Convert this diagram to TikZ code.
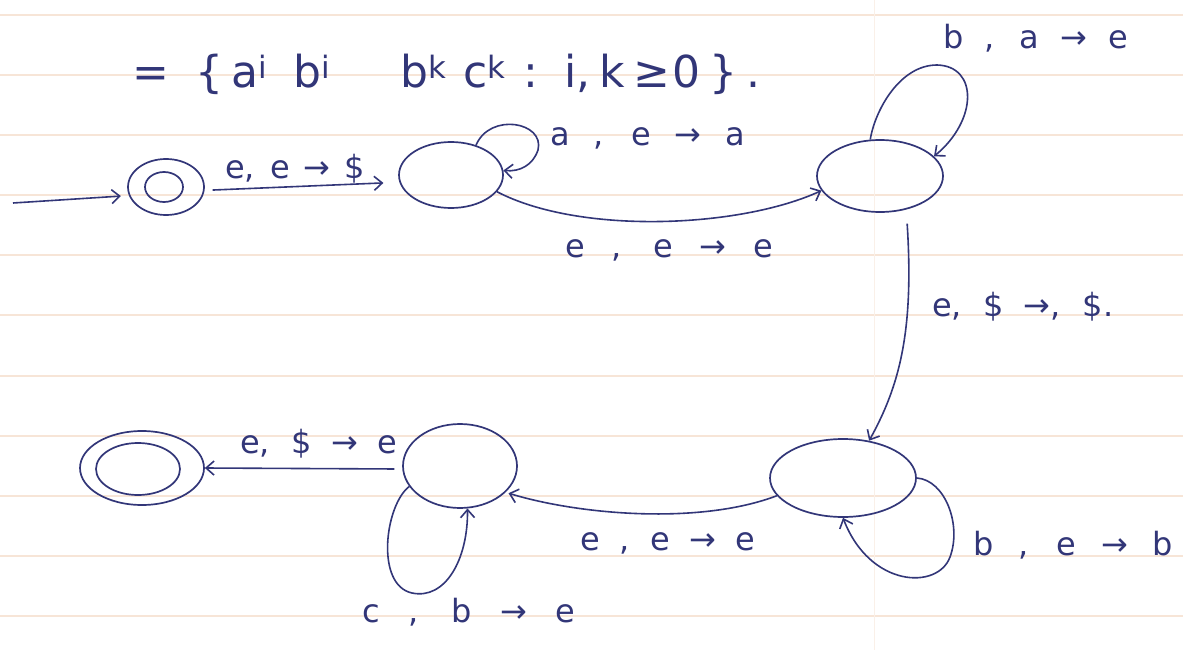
\documentclass[tikz,border=0pt]{standalone}
\usepackage{fontspec}
\setmainfont{DejaVu Sans}
\usetikzlibrary{shapes.geometric,arrows.meta}
\definecolor{ink}{RGB}{50,54,120}
\definecolor{paperrule}{RGB}{247,229,215}
\definecolor{paperv}{RGB}{250,240,232}
\newcommand\gp[1]{\hspace{0pt plus #1fil}}
\begin{document}
\begin{tikzpicture}[x=1pt,y=-1pt,
  state/.style={ellipse, draw=ink, line width=1.7pt, inner sep=0pt},
  edge/.style={draw=ink, line width=1.6pt, -{Straight Barb[length=8pt,width=14pt]}},
  lab/.style={anchor=base west, inner sep=0pt, text=ink, font=\fontsize{32}{34}\selectfont},
]
\useasboundingbox (0,0) rectangle (1183,650);
\fill[white] (0,0) rectangle (1183,650);
\foreach \yy in {15,75,135,195,255,315,376,436,496,556,616}
  \draw[paperrule, line width=1.3pt] (0,\yy) -- (1183,\yy);
\draw[paperv, line width=1pt] (874,0) -- (874,650);

% title
\node[lab, font=\fontsize{44}{46}\selectfont] (title) at (132,88)
  {\makebox[628pt][s]{=\gp3\{\gp1a\textsuperscript{i}\gp3b\textsuperscript{i}\gp8b\textsuperscript{k}\gp2c\textsuperscript{k}\gp2:\gp3i,\gp1k\gp1≥\gp{0.3}0\gp1\}\gp1.}};

% states
\node[state, minimum width=76pt, minimum height=56pt] (q0) at (166,187) {};
\node[state, minimum width=38pt, minimum height=30pt] (q0i) at (164,187) {};
\node[state, minimum width=104pt, minimum height=66pt] (q1) at (451,175) {};
\node[state, minimum width=126pt, minimum height=72pt] (q2) at (880,176) {};
\node[state, minimum width=146pt, minimum height=78pt] (q3) at (843,478) {};
\node[state, minimum width=114pt, minimum height=84pt] (q4) at (460,466) {};
\node[state, minimum width=124pt, minimum height=74pt] (q5) at (142,468) {};
\node[state, minimum width=84pt, minimum height=52pt] (q5i) at (138,469) {};

% edges
\coordinate (s) at (13,203);
\draw[edge, shorten >=8pt] (s) -- (q0.193);
\draw[edge, shorten <=8pt, shorten >=16pt] (q0.-5) -- (q1.188);
\draw[edge] (q1.50) .. controls (490,112) and (545,122) .. (538,150)
  .. controls (533,165) and (520,172) .. (q1.5);
\draw[edge] (q1.-20) .. controls (580,235) and (740,228) .. (q2.194);
\draw[edge] (q2.105) .. controls (875,110) and (900,65) .. (937,65)
  .. controls (978,66) and (978,120) .. (q2.20);
\draw[edge, shorten <=14pt] (q2.-52) .. controls (914,330) and (900,385) .. (q3.55);
\draw[edge] (q3.0) .. controls (945,480) and (962,525) .. (950,557)
  .. controls (938,590) and (870,588) .. (q3.-90);
\draw[edge, shorten >=3pt] (q3.195) .. controls (700,525) and (580,515) .. (q4.-30);
\draw[edge] (q4.202) .. controls (385,505) and (375,585) .. (412,593)
  .. controls (445,600) and (468,560) .. (q4.-80);
\draw[edge, shorten <=8pt] (q4.183) -- (q5.0);

% labels
\node[lab] (l01) at (225,178) {\makebox[140pt][s]{e, e → \$}};
\node[lab] (l11) at (550,146) {\makebox[195pt][s]{a , e → a}};
\node[lab] (l12) at (565,257) {\makebox[208pt][s]{e , e → e}};
\node[lab] (l22) at (943,49) {\makebox[185pt][s]{b , a → e}};
\node[lab] (l23) at (932,316) {\makebox[181pt][s]{e, \$ →, \$.}};
\node[lab] (l33) at (973,555) {\makebox[200pt][s]{b , e → b}};
\node[lab] (l34) at (580,550) {\makebox[175pt][s]{e , e → e}};
\node[lab] (l44) at (362,622) {\makebox[213pt][s]{c , b → e}};
\node[lab] (l45) at (240,453) {\makebox[157pt][s]{e, \$ → e}};
\end{tikzpicture}
\end{document}
